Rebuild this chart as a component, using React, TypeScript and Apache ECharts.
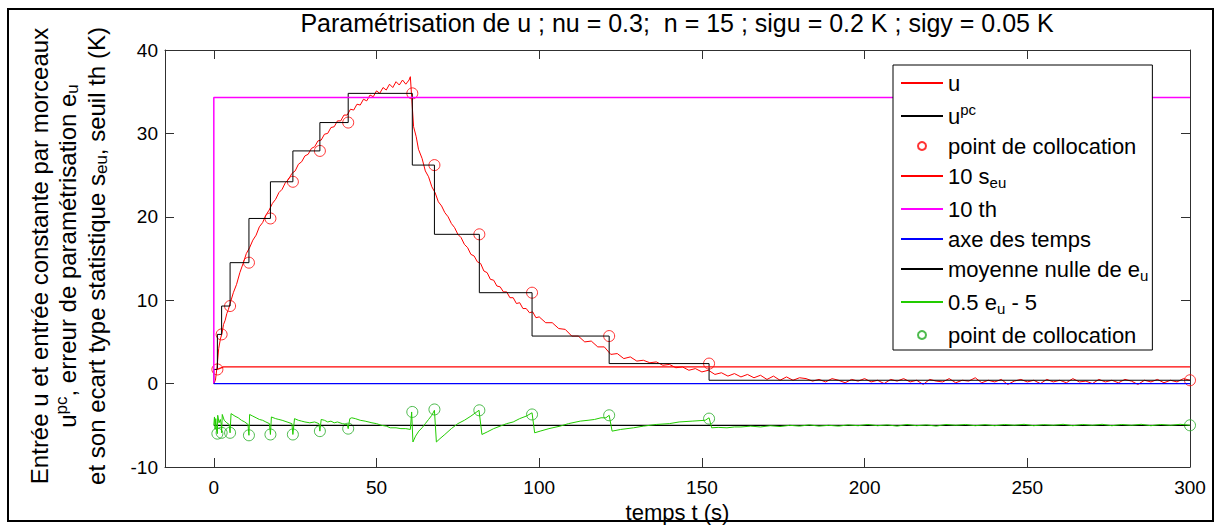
import React, { useEffect, useRef } from "react";
import * as echarts from "echarts";

const FONT = "'Liberation Sans', Arial, sans-serif";

const titleText = "Paramétrisation de u ; nu = 0.3;  n = 15 ; sigu = 0.2 K ; sigy = 0.05 K";
const xTicks = [0, 50, 100, 150, 200, 250, 300];

// u (time s, value K)
const uData: number[][] = [
  [0, 0], [0.5, 0.4], [1, 2.0], [1.5, 4.2], [2, 5.3], [2.5, 6.0], [3, 7.1], [3.5, 7.6], [4, 8.4], [4.5, 8.9],
  [5, 9.6], [6, 10.9], [7, 11.9], [8, 13.3], [9, 14.4], [10, 15.6], [11, 16.3], [12, 17.2], [13, 17.8], [14, 18.8],
  [15, 19.3], [16, 20.2], [17, 20.8], [18, 21.6], [19, 22.1], [20, 22.9], [21, 23.3], [22, 24.1], [23, 24.5], [24, 25.2],
  [25, 25.5], [26, 26.3], [27, 26.6], [28, 27.3], [29, 27.5], [30, 28.2], [31, 28.4], [32, 29.1], [33, 29.2], [34, 29.9],
  [35, 30.0], [36, 30.7], [37, 30.8], [38, 31.5], [39, 31.5], [40, 32.2], [41, 32.2], [42, 32.9], [43, 32.8], [44, 33.5],
  [45, 33.4], [46, 34.1], [47, 33.9], [48, 34.6], [49, 34.4], [50, 35.1], [51, 34.8], [52, 35.5], [53, 35.2], [54, 35.9],
  [55, 35.5], [56, 36.2], [57, 35.8], [58, 36.4], [59, 35.9], [60, 36.4], [60.4, 36.8], [60.8, 34.4], [61.4, 30.8],
  [62.2, 29.6], [62.9, 28.1], [64, 27.0], [65, 25.5], [66, 24.8], [67, 23.6], [68, 22.9], [69, 21.8], [70, 21.3],
  [71, 20.5], [72, 20.0], [73, 19.2], [74, 18.7], [75, 17.9], [76, 17.5], [77, 16.7], [78, 16.3], [79, 15.5], [80, 15.3],
  [81, 14.6], [82, 14.4], [83, 13.5], [84, 13.3], [85, 12.5], [86, 12.4], [87, 11.7], [88, 11.6], [89, 11.0], [90, 11.0],
  [91, 10.3], [92, 10.3], [93, 9.6], [94, 9.7], [95, 9.0], [96, 9.0], [97, 8.5], [98, 8.6], [99, 7.9], [100, 8.0],
  [102, 7.3], [104, 7.3], [106, 6.6], [108, 6.5], [110, 5.7], [112, 5.7], [114, 5.0], [116, 5.1], [118, 4.4], [120, 4.4],
  [122, 3.5], [124, 3.6], [126, 3.0], [128, 3.2], [130, 2.7], [132, 2.8], [134, 2.5], [136, 2.6], [138, 2.2], [140, 2.3],
  [142, 1.9], [144, 2.0], [146, 1.6], [148, 1.8], [150, 1.4], [152, 1.6], [154, 1.1], [156, 1.3], [158, 0.9], [160, 1.2],
  [162, 0.8], [164, 1.1], [166, 0.7], [168, 1.0], [170, 0.5], [172, 0.9], [174, 0.4], [176, 0.8], [178, 0.4], [180, 0.7],
  [182, 0.6], [184, 0.3], [186, 0.5], [188, 0.2], [190, 0.6], [192, 0.4], [194, 0.1], [196, 0.5], [198, 0.3], [200, 0.6],
  [202, 0.2], [204, 0.4], [206, 0.0], [208, 0.5], [210, 0.3], [212, 0.6], [214, 0.2], [216, 0.4], [218, -0.1], [220, 0.5],
  [222, 0.3], [224, 0.2], [226, 0.6], [228, 0.1], [230, 0.4], [232, 0.3], [234, 0.7], [236, 0.1], [238, 0.4], [240, 0.2],
  [242, 0.5], [244, -0.1], [246, 0.3], [248, 0.5], [250, 0.2], [252, 0.4], [254, 0.0], [256, 0.5], [258, 0.2], [260, 0.4],
  [262, 0.1], [264, 0.6], [266, 0.2], [268, 0.3], [270, 0.0], [272, 0.5], [274, 0.2], [276, 0.4], [278, 0.1], [280, 0.5],
  [282, 0.3], [284, -0.1], [286, 0.4], [288, 0.2], [290, 0.5], [292, 0.1], [294, 0.4], [296, 0.2], [298, 0.6], [300, 0.4],
];

// collocation points
const collocT = [1.1, 2.4, 5.0, 10.8, 17.4, 24.3, 32.6, 41.3, 61, 67.8, 81.6, 97.8, 121.5, 152.2, 300];
const collocU = [1.7, 5.9, 9.3, 14.5, 19.8, 24.2, 27.9, 31.3, 34.8, 26.2, 17.9, 10.9, 5.7, 2.4, 0.4];
const collocE = [-6.0, -5.9, -5.9, -6.2, -6.1, -6.1, -5.7, -5.4, -3.4, -3.1, -3.2, -3.7, -3.8, -4.2, -5.0];

const seuData: number[][] = [[1.1, 1.7], [3, 2.0], [300, 2.0]];
const thData: number[][] = [[0, 0], [0, 34.3], [300, 34.3]];
const axeData: number[][] = [[0, 0], [300, 0]];
const moyData: number[][] = [[0, -5], [300, -5]];

// 0.5 e_u - 5
const eData: number[][] = [
  [0, -5.0], [0.2, -4.0], [0.4, -5.5], [0.6, -4.2], [0.8, -5.4], [1.1, -6.0], [1.2, -3.8], [1.6, -4.7], [2.0, -4.3],
  [2.3, -4.9], [2.4, -5.9], [2.6, -3.7], [3.2, -4.4], [4.0, -4.7], [4.7, -4.9], [5.0, -5.9], [5.3, -3.6], [6.5, -3.9],
  [7.5, -4.1], [8.5, -4.4], [9.5, -4.6], [10.5, -4.9], [10.8, -6.2], [11.0, -3.7], [12, -3.9], [13, -4.1], [14, -4.3],
  [15, -4.4], [16, -4.6], [17.1, -4.8], [17.4, -6.1], [17.7, -4.0], [19, -4.2], [20, -4.3], [21, -4.4], [22.5, -4.6],
  [24.0, -4.8], [24.3, -6.1], [24.8, -4.2], [26, -4.4], [27, -4.5], [28, -4.6], [29.5, -4.7], [31, -4.6], [32.3, -4.8],
  [32.6, -5.7], [33.0, -4.3], [34, -4.4], [35, -4.6], [36, -4.5], [37, -4.7], [38, -4.6], [39.5, -4.8], [41.0, -4.9],
  [41.3, -5.4], [41.8, -4.2], [42.4, -4.1], [43.5, -4.2], [45, -4.4], [46.5, -4.5], [48.6, -4.7], [50, -4.8],
  [51.5, -5.0], [53, -5.1], [54.2, -5.3], [56, -5.3], [57.5, -5.4], [59, -5.4], [60.4, -5.5], [60.8, -3.4],
  [61.2, -7.0], [62, -6.3], [63, -5.7], [64, -5.3], [65, -4.8], [66, -4.3], [67, -3.8], [67.8, -3.2], [68.4, -7.0],
  [69.5, -6.6], [71, -6.1], [73, -5.4], [75, -4.8], [77, -4.4], [79, -3.9], [81.5, -3.2], [82.4, -6.1], [84, -5.8],
  [86, -5.4], [88, -5.1], [90, -4.8], [92, -4.6], [94, -4.2], [96, -3.9], [97.8, -3.5], [98.6, -5.9], [100.3, -5.7],
  [103, -5.4], [106.4, -5.1], [109, -4.8], [112.6, -4.5], [115, -4.4], [117, -4.3], [119, -4.1], [120.5, -4.1],
  [121.5, -3.8], [122.4, -5.7], [125, -5.5], [129, -5.3], [132, -5.1], [136, -4.9], [140, -4.8], [143, -4.6],
  [147, -4.5], [151, -4.4], [152.2, -4.1], [153, -5.3], [155, -5.25], [157.7, -5.3], [160, -5.2],
  [162, -5.2], [165, -5.1], [168, -5.2], [171, -5.05], [174, -5.15], [177, -5.0], [180, -5.1], [183, -4.95],
  [186, -5.1], [189, -5.0], [192, -5.1], [195, -4.95], [198, -5.05], [201, -4.9], [204, -5.05], [207, -4.95],
  [210, -5.1], [213, -4.9], [216, -5.05], [219, -4.95], [222, -5.1], [225, -4.9], [228, -5.0], [231, -4.9],
  [234, -5.05], [237, -4.92], [240, -5.05], [243, -4.9], [246, -5.0], [249, -4.88], [252, -5.05], [255, -4.92],
  [258, -5.0], [261, -4.88], [264, -5.05], [267, -4.9], [270, -5.0], [273, -4.88], [276, -5.05], [279, -4.9],
  [282, -5.0], [285, -4.88], [288, -5.05], [291, -4.9], [294, -5.0], [297, -4.88], [300, -5.0],
];

const legendNames = ["u", "upc", "pc1", "seu", "th", "axe", "moy", "eu", "pc2"];
const legendLabels: Record<string, string> = {
  u: "{t|u}",
  upc: "{t|u}{sup|pc}",
  pc1: "{t|point de collocation}",
  seu: "{t|10 s}{sub|eu}",
  th: "{t|10 th}",
  axe: "{t|axe des temps}",
  moy: "{t|moyenne nulle de e}{sub|u}",
  eu: "{t|0.5 e}{sub|u}{t| - 5}",
  pc2: "{t|point de collocation}",
};

const yLabelLines = [
  "{t|Entrée u et entrée constante par morceaux}",
  "{t|u}{sup|pc}{t|, erreur de paramétrisation e}{sub|u}",
  "{t|et son ecart type statistique s}{sub|eu}{t|, seuil th (K)}",
];

const rich = (size: number, lh: number) => ({
  t: { fontSize: size, lineHeight: lh, fontFamily: FONT, color: "#000" },
  sup: { fontSize: Math.round(size * 0.7), lineHeight: 13, verticalAlign: "top", fontFamily: FONT, color: "#000" },
  sub: { fontSize: Math.round(size * 0.7), lineHeight: 13, verticalAlign: "bottom", fontFamily: FONT, color: "#000" },
});

export default function App() {
  const ref = useRef<HTMLDivElement>(null);
  useEffect(() => {
    if (!ref.current) return;
    const chart = echarts.init(ref.current, null, { renderer: "svg" });
    const pcData = [[0, 0], ...collocT.map((t, i) => [t, collocU[i]])];
    const redCircles = collocT.map((t, i) => [t, collocU[i]]);
    const greenCircles = collocT.map((t, i) => [t, collocE[i]]);
    const axisLine = { show: true, onZero: false, lineStyle: { color: "#303030", width: 1 } };
    const tickStyle = { inside: true, length: 9, lineStyle: { color: "#303030" } };
    const labelStyle = { fontSize: 19, color: "#000", fontFamily: FONT };
    const lineSeries = (name: string, data: number[][], color: string, width = 1, extra: any = {}) => ({
      name, type: "line", data, symbol: "none", showSymbol: false, lineStyle: { color, width }, itemStyle: { color },
      emphasis: { disabled: true }, ...extra,
    });
    const circleSeries = (name: string, data: number[][], color: string) => ({
      name, type: "scatter", data, symbol: "circle", symbolSize: 11,
      itemStyle: { color: "rgba(0,0,0,0)", borderColor: color, borderWidth: 1 }, emphasis: { disabled: true },
    });
    chart.setOption({
      animation: false,
      backgroundColor: "#fff",
      title: {
        text: titleText, left: 677, top: 10, padding: 0, textAlign: "center",
        textStyle: { fontSize: 25, fontWeight: "normal", color: "#000", fontFamily: FONT },
      },
      grid: {
        left: 165, top: 50, width: 1025, height: 417, containLabel: false, outerBoundsMode: "none",
      },
      xAxis: [
        {
          type: "value", min: -15, max: 300, position: "bottom",
          axisLine, axisTick: { ...tickStyle, customValues: xTicks },
          axisLabel: { ...labelStyle, margin: 11, customValues: xTicks },
          splitLine: { show: false },
          name: "temps t (s)", nameLocation: "middle", nameGap: 28,
          nameTextStyle: { fontSize: 22, color: "#000", fontFamily: FONT },
        },
        {
          type: "value", min: -15, max: 300, position: "top",
          axisLine, axisTick: { ...tickStyle, customValues: xTicks },
          axisLabel: { show: false }, splitLine: { show: false },
        },
      ],
      yAxis: [
        {
          type: "value", min: -10, max: 40, interval: 10, position: "left",
          axisLine, axisTick: tickStyle, axisLabel: { ...labelStyle, margin: 7 }, splitLine: { show: false },
        },
        {
          type: "value", min: -10, max: 40, interval: 10, position: "right",
          axisLine, axisTick: tickStyle, axisLabel: { show: false }, splitLine: { show: false },
        },
      ],
      legend: {
        orient: "vertical", left: 893, top: 65,
        itemWidth: 42, itemHeight: 8, itemGap: 8,
        padding: [7, 4, 4, 7],
        backgroundColor: "#fff", borderColor: "#000", borderWidth: 1,
        selectedMode: false,
        textStyle: { fontSize: 22, fontFamily: FONT, color: "#000", rich: rich(22, 28) },
        formatter: (name: string) => legendLabels[name] || name,
        data: legendNames.map((n) =>
          n === "pc1" || n === "pc2" ? { name: n } : { name: n, itemStyle: { opacity: 0 } }
        ),
      },
      graphic: [
        {
          type: "rect", shape: { x: 8, y: 9, width: 1205, height: 512 },
          style: { fill: "none", stroke: "#000", lineWidth: 2 }, silent: true,
        },
        ...yLabelLines.map((txt, i) => ({
          type: "text", x: [39, 67, 96][i], y: 256, rotation: Math.PI / 2,
          style: { text: txt, align: "center", verticalAlign: "middle", rich: rich(24, 28), fill: "#000" },
          silent: true,
        })),
      ],
      series: [
        lineSeries("u", uData, "#ff0000", 1),
        lineSeries("upc", pcData, "#000000", 1, { step: "start" }),
        circleSeries("pc1", redCircles, "#ff0000"),
        lineSeries("seu", seuData, "#ff0000", 1.2),
        lineSeries("th", thData, "#ff00ff", 1.5),
        lineSeries("axe", axeData, "#0000ff", 1.2),
        lineSeries("moy", moyData, "#000000", 1.2),
        lineSeries("eu", eData, "#22cc00", 1),
        circleSeries("pc2", greenCircles, "#22aa22"),
      ],
    });
    return () => chart.dispose();
  }, []);
  return (
    <div
      ref={ref}
      style={{ position: "fixed", left: 0, top: 0, width: 1221, height: 525, background: "#fff" }}
    />
  );
}
